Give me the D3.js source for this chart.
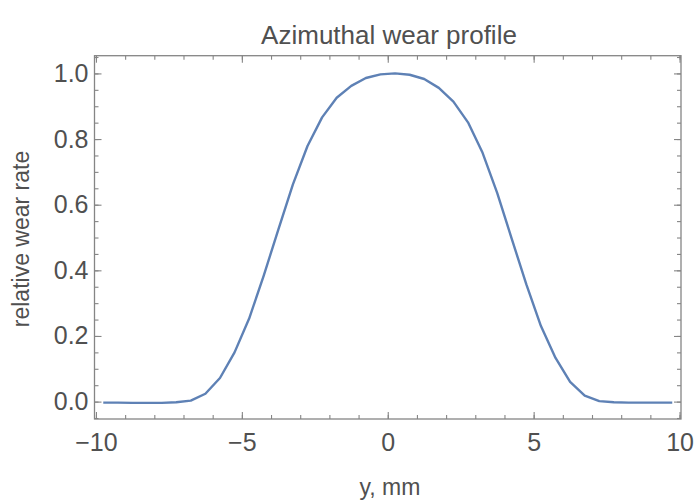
<!DOCTYPE html>
<html><head><meta charset="utf-8">
<script src="https://cdn.jsdelivr.net/npm/d3@7"></script>
<style>
html,body{margin:0;padding:0;background:#fff;}
svg{display:block;font-family:"Liberation Sans",Arial,Helvetica,sans-serif;}
</style></head>
<body>
<svg id="chart" width="695" height="502"></svg>
<script>
const title = "Azimuthal wear profile";
const xLabel = "y, mm";
const yLabel = "relative wear rate";
const yPos = [-9.75,-9.25,-8.75,-8.25,-7.75,-7.25,-6.75,-6.25,-5.75,-5.25,-4.75,-4.25,-3.75,-3.25,-2.75,-2.25,-1.75,-1.25,-0.75,-0.25,
              0.25,0.75,1.25,1.75,2.25,2.75,3.25,3.75,4.25,4.75,5.25,5.75,6.25,6.75,7.25,7.75,8.25,8.75,9.25,9.75];
const wearRate = [-0.003,-0.003,-0.004,-0.004,-0.004,-0.002,0.003,0.024,0.072,0.150,0.253,0.384,0.524,0.662,0.779,0.866,0.926,0.962,0.986,0.997,
                  1.000,0.996,0.983,0.956,0.914,0.851,0.758,0.636,0.496,0.357,0.230,0.133,0.060,0.018,0.0015,-0.002,-0.003,-0.003,-0.003,-0.003];
const xTicks = [-10,-5,0,5,10];
const yTicks = [0.0,0.2,0.4,0.6,0.8,1.0];

const svg = d3.select("#chart");
const L = 94.5, R = 681, T = 55.7, B = 419;
const x = d3.scaleLinear().domain([-10.05, 10.05]).range([L, R]);
const y = d3.scaleLinear().domain([-0.053, 1.054]).range([B, T]);

const frameColor = "#858585", textColor = "#505050";
const xMinor = d3.range(-10, 10.001, 1);
const yMinor = d3.range(-0.05, 1.0501, 0.05).map(v => +v.toFixed(2));

function styleAxis(g){
  g.select(".domain").remove();
  g.selectAll("line").attr("stroke", frameColor).attr("stroke-width", 1.1);
  g.selectAll("text").attr("fill", textColor).attr("font-size", 25)
    .attr("font-family", "Liberation Sans, Arial, sans-serif");
}
// minor ticks
svg.append("g").attr("transform",`translate(0,${B})`)
  .call(d3.axisBottom(x).tickValues(xMinor).tickSize(-4).tickFormat("")).call(styleAxis);
svg.append("g").attr("transform",`translate(0,${T})`)
  .call(d3.axisTop(x).tickValues(xMinor).tickSize(-4).tickFormat("")).call(styleAxis);
svg.append("g").attr("transform",`translate(${L},0)`)
  .call(d3.axisLeft(y).tickValues(yMinor).tickSize(-4).tickFormat("")).call(styleAxis);
svg.append("g").attr("transform",`translate(${R},0)`)
  .call(d3.axisRight(y).tickValues(yMinor).tickSize(-4).tickFormat("")).call(styleAxis);
// major ticks
svg.append("g").attr("transform",`translate(0,${B})`)
  .call(d3.axisBottom(x).tickValues(xTicks).tickSizeInner(-7).tickSizeOuter(0).tickPadding(14)
    .tickFormat(d => d < 0 ? "\u2212" + Math.abs(d) : d)).call(styleAxis);
svg.append("g").attr("transform",`translate(0,${T})`)
  .call(d3.axisTop(x).tickValues(xTicks).tickSizeInner(-7).tickSizeOuter(0).tickFormat("")).call(styleAxis);
svg.append("g").attr("transform",`translate(${L},0)`)
  .call(d3.axisLeft(y).tickValues(yTicks).tickSizeInner(-7).tickSizeOuter(0).tickPadding(6)
    .tickFormat(d3.format(".1f"))).call(styleAxis);
svg.append("g").attr("transform",`translate(${R},0)`)
  .call(d3.axisRight(y).tickValues(yTicks).tickSizeInner(-7).tickSizeOuter(0).tickFormat("")).call(styleAxis);

// frame
svg.append("rect").attr("x", L).attr("y", T).attr("width", R - L).attr("height", B - T)
  .attr("fill", "none").attr("stroke", frameColor).attr("stroke-width", 1.3);

// curve
const pts = yPos.map((v, i) => [v, wearRate[i]]);
svg.append("path").datum(pts)
  .attr("fill", "none").attr("stroke", "#5e81b5").attr("stroke-width", 2.4)
  .attr("stroke-linejoin", "round")
  .attr("d", d3.line().x(d => x(d[0])).y(d => y(d[1])));

// titles
svg.append("text").attr("x", 389).attr("y", 44).attr("text-anchor", "middle")
  .attr("font-size", 26).attr("fill", textColor).text(title);
svg.append("text").attr("x", 390).attr("y", 495).attr("text-anchor", "middle")
  .attr("font-size", 23).attr("fill", textColor).text(xLabel);
svg.append("text").attr("transform", "translate(29,239) rotate(-90)").attr("text-anchor", "middle")
  .attr("font-size", 23).attr("fill", textColor).text(yLabel);
</script>
</body></html>
